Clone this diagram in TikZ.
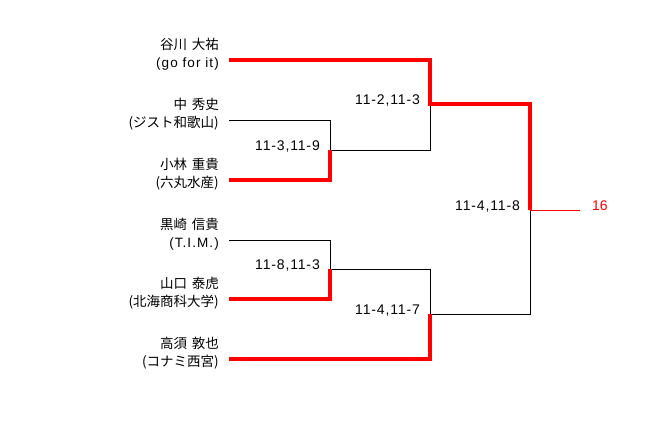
\documentclass[tikz,border=0pt]{standalone}
\usepackage{fontspec}
\setmainfont{Liberation Sans}
\newfontfamily\cjk{Noto Sans CJK JP}
\newfontfamily\scorefont[LetterSpace=6]{Liberation Sans}
\newfontfamily\latinwide[LetterSpace=8]{Liberation Sans}
\newcommand{\gap}{\hspace{0.35em}}
\definecolor{winred}{HTML}{FF0000}
\begin{document}
\begin{tikzpicture}[x=1pt,y=-1pt,
  namebox/.style={anchor=east,align=right,inner sep=0pt,font=\fontsize{13.5}{18}\selectfont},
  score/.style={anchor=base east,inner sep=0pt,font=\scorefont\fontsize{14}{16}\selectfont},
  thinline/.style={draw=black,line width=0.9pt},
  winline/.style={draw=winred,line width=4pt},
  winthin/.style={draw=winred,line width=1pt}]
\useasboundingbox (0,0) rectangle (658,440);
% player labels
\node[namebox] (n1) at (219,54.5) {{\cjk 谷川\gap 大祐}\\{\latinwide (go for it)}};
\node[namebox] (n2) at (219,114.5) {{\cjk 中\gap 秀史}\\{\cjk (ジスト和歌山)}};
\node[namebox] (n3) at (219,174.5) {{\cjk 小林\gap 重貴}\\{\cjk (六丸水産)}};
\node[namebox] (n4) at (219,234.5) {{\cjk 黒崎\gap 信貴}\\{\latinwide (T.I.M.)}};
\node[namebox] (n5) at (219,293.5) {{\cjk 山口\gap 泰虎}\\{\cjk (北海商科大学)}};
\node[namebox] (n6) at (219,353.5) {{\cjk 高須\gap 敦也}\\{\cjk (コナミ西宮)}};
% coordinates
\coordinate (p1) at (229,60);
\coordinate (p2) at (229,120);
\coordinate (p3) at (229,180);
\coordinate (p4) at (229,240);
\coordinate (p5) at (229,299);
\coordinate (p6) at (229,359);
\coordinate (c1) at (430,60);
\coordinate (c2) at (330,120);
\coordinate (c3) at (330,180);
\coordinate (c4) at (330,240);
\coordinate (c5) at (330,299);
\coordinate (c6) at (430,359);
\coordinate (m1) at (330,150);
\coordinate (m1o) at (430,150);
\coordinate (m2) at (430,104);
\coordinate (m2o) at (530,104);
\coordinate (m3) at (330,269);
\coordinate (m3o) at (430,269);
\coordinate (m4) at (430,314);
\coordinate (m4o) at (530,314);
\coordinate (f) at (530,210);
\coordinate (fo) at (580,210);
% losing lines
\draw[thinline] (p2) -- (c2) -- (m1) -- (m1o) -- (m2);
\draw[thinline] (p4) -- (c4) -- (m3) -- (m3o) -- (m4);
\draw[thinline] (m4) -- (m4o) -- (f);
% winning lines
\draw[winline] (p1) -- (c1) -- (m2) -- (m2o) -- (f);
\draw[winline] (p3) -- (c3) -- (m1);
\draw[winline] (p5) -- (c5) -- (m3);
\draw[winline] (p6) -- (c6) -- (m4);
\draw[winthin] (f) -- (fo);
% scores
\node[score] (s1) at ([xshift=-10pt]m1) {11-3,11-9};
\node[score] (s2) at ([xshift=-10pt]m2) {11-2,11-3};
\node[score] (s3) at ([xshift=-10pt]m3) {11-8,11-3};
\node[score] (s4) at ([xshift=-10pt]m4) {11-4,11-7};
\node[score] (s5) at ([xshift=-10pt]f) {11-4,11-8};
\node[anchor=base west,inner sep=0pt,text=winred,font=\fontsize{14}{16}\selectfont] (res) at ([xshift=12pt]fo) {16};
\end{tikzpicture}
\end{document}
